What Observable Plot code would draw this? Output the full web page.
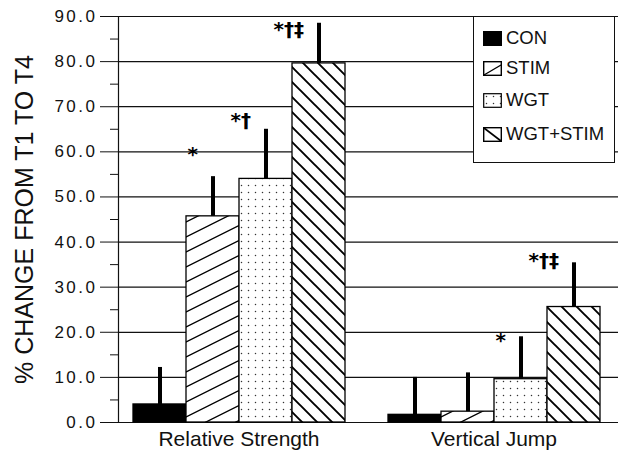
<!DOCTYPE html>
<html>
<head>
<meta charset="utf-8">
<script src="https://cdn.jsdelivr.net/npm/d3@7"></script>
<script src="https://cdn.jsdelivr.net/npm/@observablehq/plot@0.6"></script>
<style>
html, body { margin: 0; padding: 0; background: #fff; }
#wrap { position: relative; width: 618px; height: 451px; font-family: "Liberation Sans", Arial, sans-serif; }
#legend { position: absolute; left: 473px; top: 16px; width: 142px; height: 147px; border: 1.3px solid #111; background: #fff; box-sizing: border-box; }
.item { position: absolute; left: 9px; height: 16px; display: flex; align-items: center; font-size: 18.5px; color: #111; white-space: nowrap; }
.item svg { margin-right: 4px; flex: none; }
g[aria-label="y-axis tick label"] text { letter-spacing: 2.5px; }
g[aria-label="annotations"] text { letter-spacing: 2px; }
g[aria-label="ytitle"] text { letter-spacing: 1.9px; }
</style>
</head>
<body>
<svg width="0" height="0" style="position:absolute">
  <defs>
    <pattern id="pStim" patternUnits="userSpaceOnUse" width="30" height="15">
      <rect width="30" height="15" fill="#fff"/>
      <path d="M0,15 L30,0 M-3,1.5 L3,-1.5 M27,16.5 L33,13.5" stroke="#000" stroke-width="1.3"/>
    </pattern>
    <pattern id="pWgt" patternUnits="userSpaceOnUse" width="7" height="7">
      <rect width="7" height="7" fill="#fff"/>
      <circle cx="3.5" cy="3.5" r="0.75" fill="#333"/>
    </pattern>
    <pattern id="pWS" patternUnits="userSpaceOnUse" width="15" height="15">
      <rect width="15" height="15" fill="#fff"/>
      <path d="M0,0 L15,15 M-3,12 L3,18 M12,-3 L18,3" stroke="#000" stroke-width="1.9"/>
    </pattern>
  </defs>
</svg>
<div id="wrap"></div>
<script>
// ---- data ----
const categories = ["Relative Strength", "Vertical Jump"];
const groups = ["CON", "STIM", "WGT", "WGT+STIM"];
const meanRelativeStrength = [4.0, 45.7, 54.0, 79.6];
const errRelativeStrength = [8.2, 8.8, 11.0, 8.9];
const meanVerticalJump = [1.7, 2.4, 9.6, 25.6];
const errVerticalJump = [8.3, 8.6, 9.4, 9.8];
const yTicks = [0, 10, 20, 30, 40, 50, 60, 70, 80, 90];
const yMinorTicks = [5, 15, 25, 35, 45, 55, 65, 75, 85];
const annotationCategory = ["Relative Strength", "Relative Strength", "Relative Strength", "Vertical Jump", "Vertical Jump"];
const annotationGroup = ["STIM", "WGT", "WGT+STIM", "WGT", "WGT+STIM"];
const annotationText = ["*", "*†", "*†‡", "*", "*†‡"];
const annotationValue = [59.3, 67.0, 87.2, 18.2, 36.0];
const yTitle = "% CHANGE FROM T1 TO T4";
const groupFills = ["#000", "url(#pStim)", "url(#pWgt)", "url(#pWS)"];

const means = [meanRelativeStrength, meanVerticalJump];
const errs = [errRelativeStrength, errVerticalJump];
const data = [];
categories.forEach((c, ci) => groups.forEach((g, gi) => data.push({category: c, group: g, mean: means[ci][gi], err: errs[ci][gi]})));
const annotations = annotationText.map((t, i) => ({category: annotationCategory[i], group: annotationGroup[i], label: t, value: annotationValue[i]}));

const chart = Plot.plot({
  width: 618,
  height: 451,
  marginTop: 16,
  marginBottom: 29,
  marginLeft: 118,
  marginRight: 3,
  style: {fontFamily: '"Liberation Sans", Arial, sans-serif', color: "#111", background: "transparent"},
  fx: {domain: categories, paddingInner: 0.0548, paddingOuter: 0},
  x: {domain: groups, paddingInner: 0, paddingOuter: 0.232, axis: null},
  y: {domain: [0, 90]},
  color: {domain: groups, range: groupFills},
  marks: [
    Plot.ruleY(yTicks, {insetRight: -14, stroke: "#111", strokeWidth: 1.2}),
    Plot.barY(data, {fx: "category", x: "group", y: "mean", fill: "group", stroke: "#000", strokeWidth: 1.3}),
    Plot.ruleX(data, {fx: "category", x: "group", y1: "mean", y2: d => d.mean + d.err, stroke: "#000", strokeWidth: 4}),
    Plot.text(annotations, {fx: "category", x: "group", y: "value", text: "label", textAnchor: "end", dx: -15, fontSize: 20, fontWeight: "bold", fontFamily: '"DejaVu Sans", sans-serif', fill: "#000", ariaLabel: "annotations"}),
    Plot.axisY({ticks: yTicks, tickFormat: d => d.toFixed(1), tickSize: 18, tickPadding: 3, fontSize: 17, label: null, stroke: "#111"}),
    Plot.axisY({ticks: yMinorTicks, tickFormat: () => "", tickSize: 8, label: null, stroke: "#111"}),
    Plot.frame({anchor: "left", facet: "super", stroke: "#111", strokeWidth: 1.2}),
    Plot.axisFx({anchor: "bottom", tickSize: 0, tickPadding: 9, fontSize: 21, label: null}),
    Plot.text([yTitle], {frameAnchor: "left", rotate: -90, dx: -94, textAnchor: "middle", fontSize: 25, facet: "super", fill: "#111", ariaLabel: "ytitle"})
  ]
});

const wrap = document.getElementById("wrap");
wrap.appendChild(chart);

// legend
const legend = document.createElement("div");
legend.id = "legend";
const rowTops = [13, 43, 75, 109];
const swatch = {
  "CON": '<rect x="0.5" y="0.5" width="18" height="14" fill="#000" stroke="#000"/>',
  "STIM": '<rect x="0.7" y="0.7" width="17.6" height="13.6" fill="#fff" stroke="#000" stroke-width="1.4"/><path d="M1,14 L18,4" stroke="#000" stroke-width="1.4"/>',
  "WGT": '<rect x="0.7" y="0.7" width="17.6" height="13.6" fill="url(#pWgt)" stroke="#000" stroke-width="1.2"/>',
  "WGT+STIM": '<rect x="0.7" y="0.7" width="17.6" height="13.6" fill="#fff" stroke="#000" stroke-width="1.4"/><path d="M1,1 L18,14" stroke="#000" stroke-width="1.6"/>'
};
groups.forEach((g, i) => {
  const row = document.createElement("div");
  row.className = "item";
  row.style.top = rowTops[i] + "px";
  row.innerHTML = '<svg width="19" height="15">' + swatch[g] + '</svg><span>' + g + '</span>';
  legend.appendChild(row);
});
wrap.appendChild(legend);
</script>
</body>
</html>
